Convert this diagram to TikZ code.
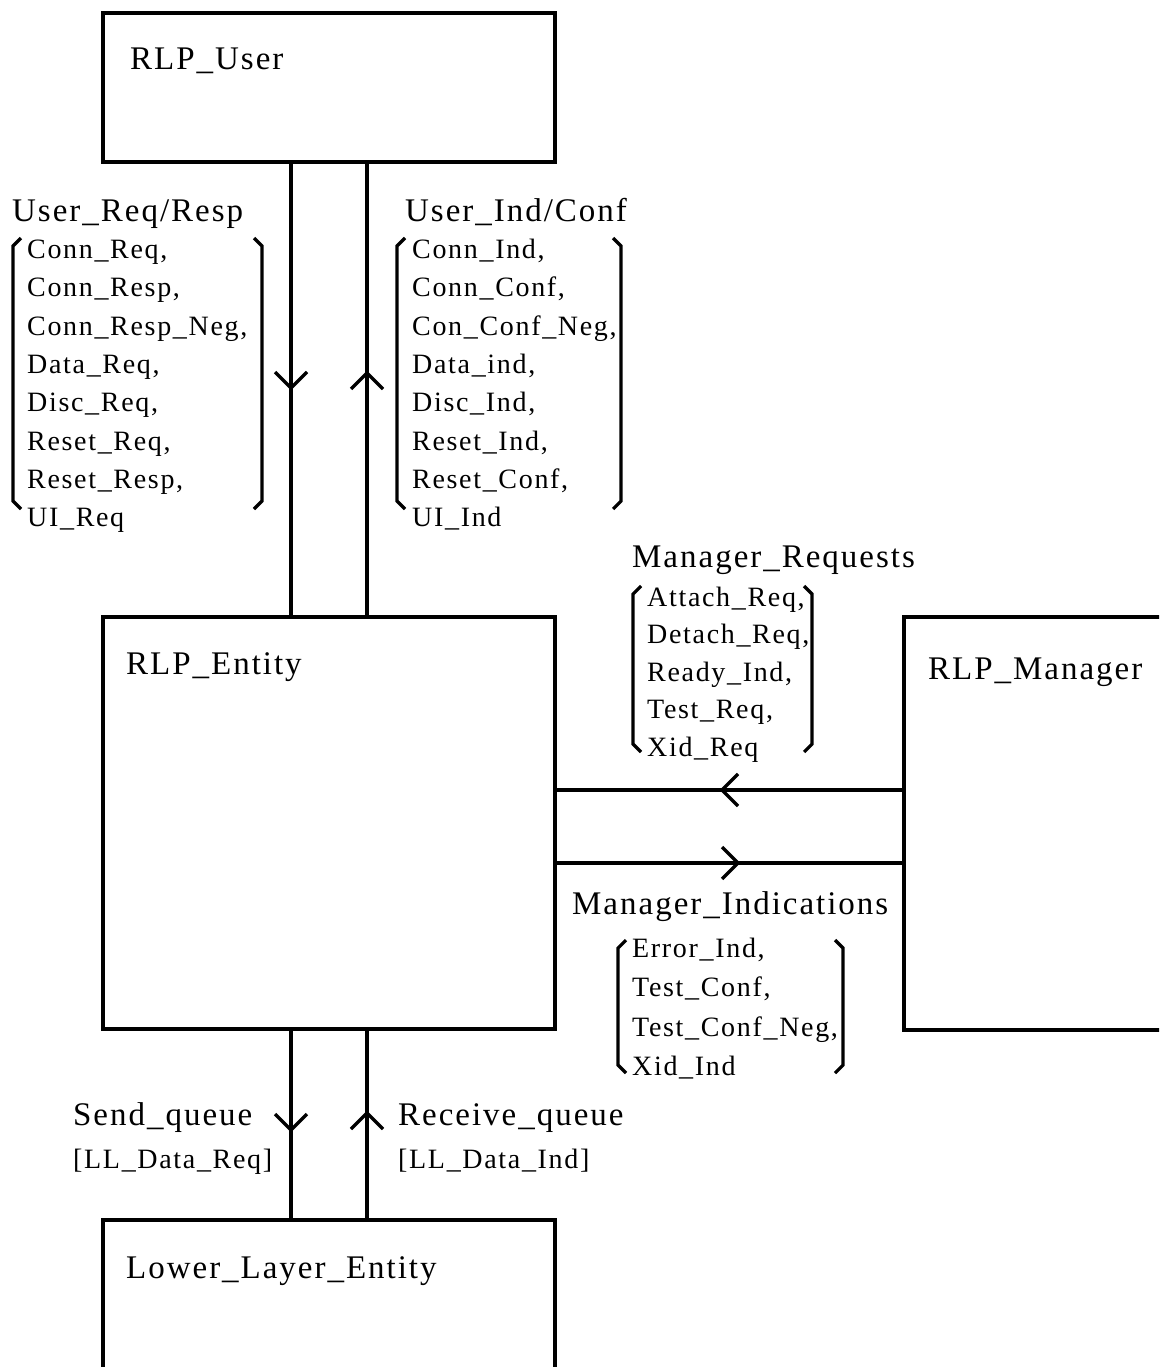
\documentclass[tikz,border=0pt]{standalone}
\usepackage{fontspec}
\newfontfamily\dfont{Liberation Serif}[LetterSpace=6]
\usetikzlibrary{decorations.markings}
\tikzset{
  ln/.style={line width=3.4pt},
  brk/.style={line width=3.2pt, line join=miter},
  box/.style={draw, line width=3.4pt, rectangle, inner sep=0pt, outer sep=0pt, anchor=north west},
  head/.style={font=\dfont\fontsize{33}{40}\selectfont, anchor=base west, inner sep=0pt},
  item/.style={font=\dfont\fontsize{28}{34}\selectfont, anchor=base west, inner sep=0pt},
  vmark/.style={postaction={decorate}, decoration={markings, mark=at position #1 with {\draw[line width=3.4pt, line join=miter] (-16pt,16pt) -- (0pt,0pt) -- (-16pt,-16pt);}}},
}
\newcommand\lbrk[3]{\draw[brk] (#1+8,#2) -- (#1,#2+8) -- (#1,#3-8) -- (#1+8,#3);}
\newcommand\rbrk[3]{\draw[brk] (#1-8,#2) -- (#1,#2+8) -- (#1,#3-8) -- (#1-8,#3);}
\begin{document}
\begin{tikzpicture}[x=1pt,y=-1pt]
\useasboundingbox (0,0) rectangle (1159,1367);
\clip (0,0) rectangle (1159,1367);
\fill[white] (0,0) rectangle (1159,1367);
% boxes
\node[box, minimum width=452pt, minimum height=149pt] (user) at (103,13) {};
\node[box, minimum width=452pt, minimum height=412pt] (entity) at (103,617) {};
\node[box, minimum width=400pt, minimum height=413pt] (manager) at (904,617) {};
\node[box, minimum width=452pt, minimum height=300pt] (lower) at (103,1220) {};
% connectors
\coordinate (xa) at (291,0);
\coordinate (xb) at (367,0);
\coordinate (ya) at (0,790);
\coordinate (yb) at (0,863);
\draw[ln, vmark=226pt] (xa |- user.south) -- (xa |- entity.north);
\draw[ln, vmark=244pt] (xb |- entity.north) -- (xb |- user.south);
\draw[ln, vmark=182pt] (ya -| manager.west) -- (ya -| entity.east);
\draw[ln, vmark=183pt] (yb -| entity.east) -- (yb -| manager.west);
\draw[ln, vmark=101pt] (xa |- entity.south) -- (xa |- lower.north);
\draw[ln, vmark=107pt] (xb |- lower.north) -- (xb |- entity.south);
% titles
\node[head] (tuser) at (130,70) {RLP\_User};
\node[head] (tent) at (126,674) {RLP\_Entity};
\node[head] (tmgr) at (928,679) {RLP\_Manager};
\node[head] (tlow) at (126,1278) {Lower\_Layer\_Entity};
\node[head] (turr) at (12,221) {User\_Req/Resp};
\node[head] (tuic) at (405,221) {User\_Ind/Conf};
\node[head] (tmr) at (632,567) {Manager\_Requests};
\node[head] (tmi) at (572,914) {Manager\_Indications};
\node[head] (tsq) at (73,1125) {Send\_queue};
\node[item] (tsqi) at (73,1168) {[LL\_Data\_Req]};
\node[head] (trq) at (398,1125) {Receive\_queue};
\node[item] (trqi) at (398,1168) {[LL\_Data\_Ind]};
% lists
\foreach \t [count=\i from 0] in {{Conn\_Req,},{Conn\_Resp,},{Conn\_Resp\_Neg,},{Data\_Req,},{Disc\_Req,},{Reset\_Req,},{Reset\_Resp,},{UI\_Req}}
  \node[item] (lur\i) at (27,258.5+38.3*\i) {\t};
\foreach \t [count=\i from 0] in {{Conn\_Ind,},{Conn\_Conf,},{Con\_Conf\_Neg,},{Data\_ind,},{Disc\_Ind,},{Reset\_Ind,},{Reset\_Conf,},{UI\_Ind}}
  \node[item] (lui\i) at (412,258.5+38.3*\i) {\t};
\foreach \t [count=\i from 0] in {{Attach\_Req,},{Detach\_Req,},{Ready\_Ind,},{Test\_Req,},{Xid\_Req}}
  \node[item] (lmr\i) at (647,606+37.5*\i) {\t};
\foreach \t [count=\i from 0] in {{Error\_Ind,},{Test\_Conf,},{Test\_Conf\_Neg,},{Xid\_Ind}}
  \node[item] (lmi\i) at (632,957+39.5*\i) {\t};
% brackets
\lbrk{13}{238}{509}
\rbrk{262}{238}{509}
\lbrk{397}{238}{509}
\rbrk{621}{238}{509}
\lbrk{633}{586}{752}
\rbrk{812}{586}{752}
\lbrk{618}{940}{1073}
\rbrk{843}{940}{1073}
\end{tikzpicture}
\end{document}
